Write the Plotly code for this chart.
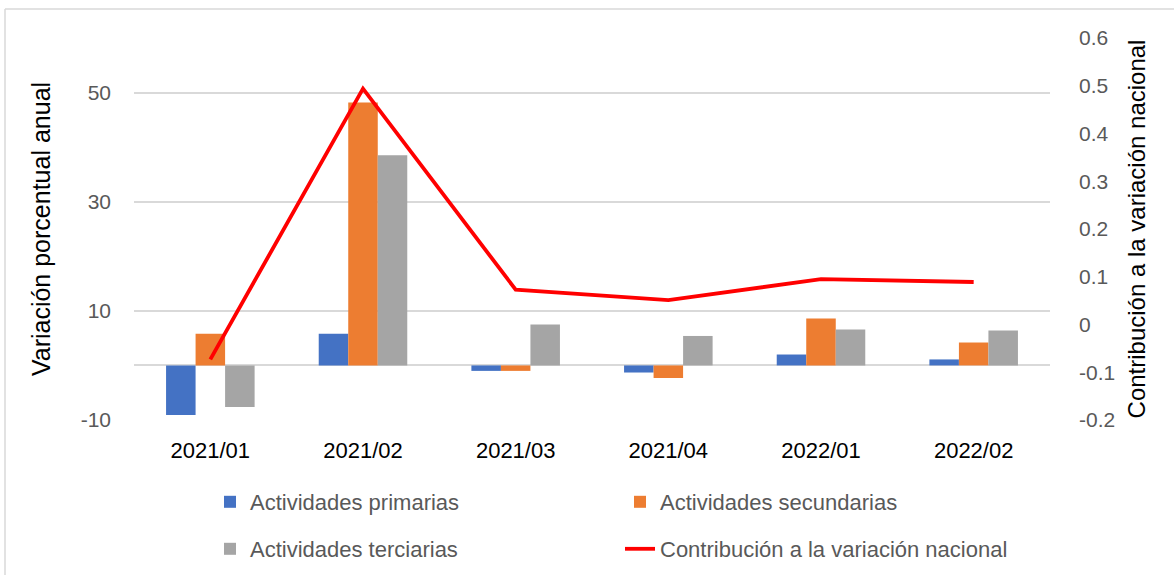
import plotly.graph_objects as go

categories = ["2021/01", "2021/02", "2021/03", "2021/04", "2022/01", "2022/02"]
primarias = [-9.1, 5.8, -1.0, -1.3, 2.0, 1.1]
secundarias = [5.8, 48.2, -1.0, -2.3, 8.6, 4.2]
terciarias = [-7.6, 38.5, 7.5, 5.4, 6.6, 6.4]
contribucion = [-0.073, 0.494, 0.073, 0.051, 0.095, 0.089]

left_tickvals = [-10, 10, 30, 50]
left_ticktext = ["-10", "10", "30", "50"]
right_tickvals = [-0.2, -0.1, 0, 0.1, 0.2, 0.3, 0.4, 0.5, 0.6]
right_ticktext = ["-0.2", "-0.1", "0", "0.1", "0.2", "0.3", "0.4", "0.5", "0.6"]

W, H = 1174, 575
ML, MR, MT, MB = 134, 124, 38, 155
PW, PH = W - ML - MR, H - MT - MB

FONT = "Liberation Sans"
TICK_COLOR = "#595959"

fig = go.Figure()
fig.add_trace(go.Bar(x=categories, y=primarias, name="Actividades primarias",
                     marker=dict(color="#4472C4", line=dict(width=0)), legend="legend"))
fig.add_trace(go.Bar(x=categories, y=secundarias, name="Actividades secundarias",
                     marker=dict(color="#ED7D31", line=dict(width=0)), legend="legend"))
fig.add_trace(go.Bar(x=categories, y=terciarias, name="Actividades terciarias",
                     marker=dict(color="#A5A5A5", line=dict(width=0)), legend="legend2"))
fig.add_trace(go.Scatter(x=categories, y=contribucion, name="Contribución a la variación nacional",
                         mode="lines", line=dict(color="#FF0000", width=3.8),
                         yaxis="y2", legend="legend2"))


def px_x(p):
    return (p - ML) / PW


def px_y(p):
    return 1 - (p - MT) / PH


fig.update_layout(
    width=W, height=H,
    margin=dict(l=ML, r=MR, t=MT, b=MB, autoexpand=False),
    paper_bgcolor="white", plot_bgcolor="white",
    font=dict(family=FONT, size=21, color=TICK_COLOR),
    barmode="group", bargap=0.42, bargroupgap=0,
    xaxis=dict(showgrid=False, showline=False, ticks="", tickfont=dict(size=22, color="#000000"),
               ticklabelstandoff=15, automargin=False),
    yaxis=dict(range=[-10, 60], tickvals=left_tickvals, ticktext=left_ticktext,
               showgrid=True, gridcolor="#D9D9D9", gridwidth=1.5,
               zeroline=True, zerolinecolor="#D9D9D9", zerolinewidth=1.5,
               showline=False, ticks="", tickfont=dict(size=21, color=TICK_COLOR),
               ticklabelstandoff=22, automargin=False,
               title=dict(text="Variación porcentual anual", font=dict(size=25, color="#000000"),
                          standoff=22)),
    yaxis2=dict(range=[-0.2, 0.6], tickvals=right_tickvals, ticktext=right_ticktext,
                overlaying="y", side="right", showgrid=False, zeroline=False,
                showline=False, ticks="", tickfont=dict(size=21, color=TICK_COLOR),
                ticklabelstandoff=28, automargin=False,
                title=dict(text="Contribución a la variación nacional", font=dict(size=24, color="#000000"),
                           standoff=14)),
    legend=dict(orientation="h", x=px_x(210), y=px_y(481), xanchor="left", yanchor="top",
                entrywidth=365, font=dict(size=22, color=TICK_COLOR), traceorder="normal",
                bgcolor="rgba(0,0,0,0)"),
    legend2=dict(orientation="h", x=px_x(210), y=px_y(528), xanchor="left", yanchor="top",
                 entrywidth=365, font=dict(size=22, color=TICK_COLOR), traceorder="normal",
                 bgcolor="rgba(0,0,0,0)"),
    shapes=[
        dict(type="line", xref="paper", yref="paper", x0=px_x(5), x1=px_x(1180),
             y0=px_y(9), y1=px_y(9), line=dict(color="#D9D9D9", width=1.5)),
        dict(type="line", xref="paper", yref="paper", x0=px_x(5), x1=px_x(5),
             y0=px_y(9), y1=px_y(580), line=dict(color="#D9D9D9", width=1.5)),
    ],
)

fig.write_html("out.html", config={"displayModeBar": False},
               post_script="document.body.style.margin='0';")
